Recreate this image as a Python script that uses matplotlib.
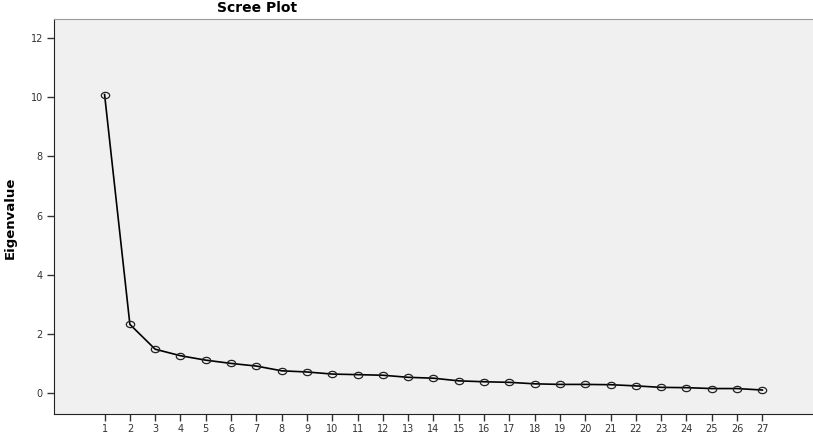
import numpy as np
from matplotlib import pyplot as plt
from matplotlib.path import Path

components = list(range(1, 28))
eigenvalues = [10.09, 2.32, 1.48, 1.26, 1.11, 1.00, 0.91, 0.75, 0.71,
               0.64, 0.62, 0.60, 0.53, 0.50, 0.41, 0.38, 0.36, 0.31,
               0.29, 0.29, 0.28, 0.24, 0.19, 0.18, 0.15, 0.15, 0.10]
y_ticks = [0, 2, 4, 6, 8, 10, 12]

# slightly flattened circle, like the SPSS output
circle = Path.unit_circle()
ellipse = Path(circle.vertices * np.array([1.0, 0.75]), circle.codes)

fig = plt.figure(figsize=(8.13, 4.36), dpi=100)
ax = fig.add_axes([0.0664, 0.0505, 0.9336, 0.9055])
ax.set_facecolor('#f0f0f0')

ax.plot(components, eigenvalues, color='black', linewidth=1.2,
        marker=ellipse, markersize=6, markerfacecolor='none',
        markeredgecolor='#222222', markeredgewidth=0.9)

ax.set_xlim(-1.0, 29.0)
ax.set_ylim(-0.71, 12.64)
ax.set_xticks(components)
ax.set_xticklabels([str(c) for c in components])
ax.set_yticks(y_ticks)

ax.tick_params(axis='both', direction='out', length=5, width=1,
               labelsize=7, labelcolor='#333333', color='#333333')
ax.tick_params(axis='y', pad=3)
ax.tick_params(axis='x', pad=2)

ax.spines['right'].set_visible(False)
ax.spines['top'].set_color('#999999')
ax.spines['left'].set_color('#222222')
ax.spines['bottom'].set_color('#222222')

fig.text(257 / 813, 1 - 8 / 436, 'Scree Plot', ha='center', va='center',
         fontsize=10, fontweight='bold')
fig.text(10 / 813, 1 - 218 / 436, 'Eigenvalue', ha='center', va='center',
         rotation=90, fontsize=9.5, fontweight='bold')

fig.savefig('out.png', dpi=100)
